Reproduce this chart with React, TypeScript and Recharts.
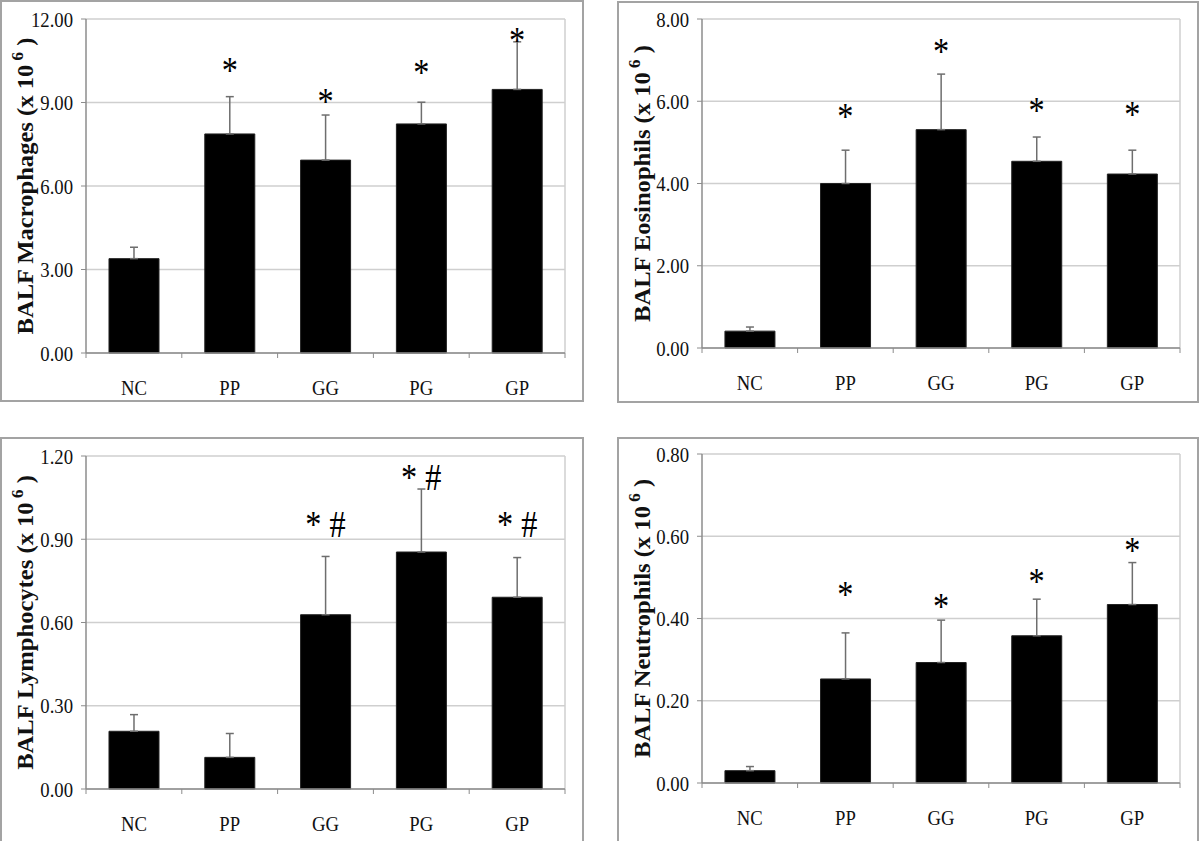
import { BarChart, Bar, XAxis, YAxis, CartesianGrid, ErrorBar, ReferenceDot } from 'recharts';

const groups = ['NC', 'PP', 'GG', 'PG', 'GP'];

const macrophageMean = [3.39, 7.87, 6.93, 8.23, 9.47];
const macrophageSd = [0.41, 1.34, 1.62, 0.78, 1.71];
const macrophageMarks = ['', '*', '*', '*', '*'];
const macrophageMarkY = [0, 10.3, 9.2, 10.23, 11.4];
const macrophageTicks = [0, 3, 6, 9, 12];

const eosinophilMean = [0.41, 4.0, 5.31, 4.54, 4.23];
const eosinophilSd = [0.1, 0.81, 1.35, 0.59, 0.58];
const eosinophilMarks = ['', '*', '*', '*', '*'];
const eosinophilMarkY = [0, 5.74, 7.33, 5.88, 5.78];
const eosinophilTicks = [0, 2, 4, 6, 8];

const lymphocyteMean = [0.208, 0.114, 0.628, 0.854, 0.691];
const lymphocyteSd = [0.06, 0.086, 0.21, 0.227, 0.143];
const lymphocyteMarks = ['', '', '* #', '* #', '* #'];
const lymphocyteMarkY = [0, 0, 0.969, 1.139, 0.969];
const lymphocyteTicks = [0, 0.3, 0.6, 0.9, 1.2];

const neutrophilMean = [0.03, 0.253, 0.293, 0.358, 0.434];
const neutrophilSd = [0.01, 0.112, 0.103, 0.089, 0.102];
const neutrophilMarks = ['', '*', '*', '*', '*'];
const neutrophilMarkY = [0, 0.469, 0.44, 0.501, 0.576];
const neutrophilTicks = [0, 0.2, 0.4, 0.6, 0.8];

const FONT = '"Liberation Serif", "Times New Roman", serif';
const AXIS = '#8c8c8c';
const GRID = '#cfcfcf';
const FRAME = '#a3a3a3';

function CatTick(props: any) {
  const { x, y, payload, index, visibleTicksCount } = props;
  const half = payload.offset ?? 0;
  return (
    <g>
      <line x1={x - half} y1={y} x2={x - half} y2={y + 5} stroke={AXIS} />
      {index === visibleTicksCount - 1 && (
        <line x1={x + half} y1={y} x2={x + half} y2={y + 5} stroke={AXIS} />
      )}
      <text
        transform={`translate(${x},${y + 42}) scale(0.85,1)`}
        textAnchor="middle"
        fontFamily={FONT}
        fontSize={22}
        fill="#111"
      >
        {payload.value}
      </text>
    </g>
  );
}

function ValTick(props: any) {
  const { x, y, payload } = props;
  return (
    <text
      transform={`translate(${x},${y + 7.5}) scale(0.85,1)`}
      textAnchor="end"
      fontFamily={FONT}
      fontSize={22}
      fill="#111"
    >
      {Number(payload.value).toFixed(2)}
    </text>
  );
}

function Panel({ box, plot, name, mean, sd, marks, markY, ticks }: any) {
  const data = groups.map((g, i) => ({ group: g, mean: mean[i], err: [0, sd[i]] }));
  const max = ticks[ticks.length - 1];

  const yLabel = (p: any) => {
    const vb = p.viewBox;
    const cx = vb.x + 25;
    const cy = vb.y + vb.height / 2;
    return (
      <text
        transform={`translate(${cx},${cy}) rotate(-90) scale(1.07,1)`}
        textAnchor="middle"
        fontFamily={FONT}
        fontWeight="bold"
        fontSize={23}
        fill="#111"
        dy={8}
      >
        BALF {name} (x 10
        <tspan dy={-10} fontSize={16}> 6</tspan>
        <tspan dy={10}> )</tspan>
      </text>
    );
  };

  return (
    <>
      <div
        style={{
          position: 'absolute',
          left: box.left,
          top: box.top,
          width: box.width,
          height: box.height,
          border: `2px solid ${FRAME}`,
          boxSizing: 'border-box',
        }}
      />
      <div style={{ position: 'absolute', left: box.left, top: box.top }}>
        <BarChart
          width={box.width}
          height={box.height}
          data={data}
          margin={{ top: plot.top, right: plot.right, bottom: 0, left: 0 }}
          barCategoryGap="24%"
        >
          <CartesianGrid
            stroke={GRID}
            strokeWidth={1.5}
            verticalCoordinatesGenerator={({ offset }: any) => [offset.left + offset.width]}
          />
          <XAxis
            dataKey="group"
            height={plot.bottom}
            axisLine={{ stroke: AXIS, strokeWidth: 1.5 }}
            tickLine={false}
            tickSize={0}
            tickMargin={0}
            interval={0}
            tick={<CatTick />}
          />
          <YAxis
            width={plot.left}
            domain={[0, max]}
            ticks={ticks}
            interval={0}
            axisLine={{ stroke: AXIS, strokeWidth: 1.5 }}
            tickLine={{ stroke: AXIS }}
            tickSize={5}
            tickMargin={8}
            tick={<ValTick />}
            label={{ content: yLabel }}
          />
          <Bar dataKey="mean" fill="#000" stroke="#222" isAnimationActive={false}>
            <ErrorBar dataKey="err" direction="y" width={4} stroke="#6e6e6e" strokeWidth={1.5} />
          </Bar>
          {groups.map((g, i) =>
            marks[i] ? (
              <ReferenceDot
                key={g}
                x={g}
                y={markY[i]}
                r={0}
                ifOverflow="visible"
                shape={(p: any) => (
                  <text
                    transform={`translate(${p.cx},${p.cy + 17}) scale(0.85,1)`}
                    textAnchor="middle"
                    fontFamily={FONT}
                    fontSize={38}
                    fill="#000"
                  >
                    {marks[i]}
                  </text>
                )}
              />
            ) : null
          )}
        </BarChart>
      </div>
    </>
  );
}

export default function App() {
  return (
    <div
      style={{
        position: 'absolute',
        left: 0,
        top: 0,
        width: 1200,
        height: 841,
        overflow: 'hidden',
        background: '#fff',
      }}
    >
      <Panel
        box={{ left: 0, top: 0, width: 584, height: 402 }}
        plot={{ left: 86, top: 19, right: 19, bottom: 49 }}
        name="Macrophages"
        mean={macrophageMean}
        sd={macrophageSd}
        marks={macrophageMarks}
        markY={macrophageMarkY}
        ticks={macrophageTicks}
      />
      <Panel
        box={{ left: 617, top: 1, width: 582, height: 402 }}
        plot={{ left: 85, top: 18, right: 19, bottom: 55 }}
        name="Eosinophils"
        mean={eosinophilMean}
        sd={eosinophilSd}
        marks={eosinophilMarks}
        markY={eosinophilMarkY}
        ticks={eosinophilTicks}
      />
      <Panel
        box={{ left: 0, top: 437, width: 584, height: 420 }}
        plot={{ left: 86, top: 19, right: 19, bottom: 68 }}
        name="Lymphocytes"
        mean={lymphocyteMean}
        sd={lymphocyteSd}
        marks={lymphocyteMarks}
        markY={lymphocyteMarkY}
        ticks={lymphocyteTicks}
      />
      <Panel
        box={{ left: 617, top: 437, width: 582, height: 420 }}
        plot={{ left: 85, top: 17, right: 19, bottom: 74 }}
        name="Neutrophils"
        mean={neutrophilMean}
        sd={neutrophilSd}
        marks={neutrophilMarks}
        markY={neutrophilMarkY}
        ticks={neutrophilTicks}
      />
    </div>
  );
}
